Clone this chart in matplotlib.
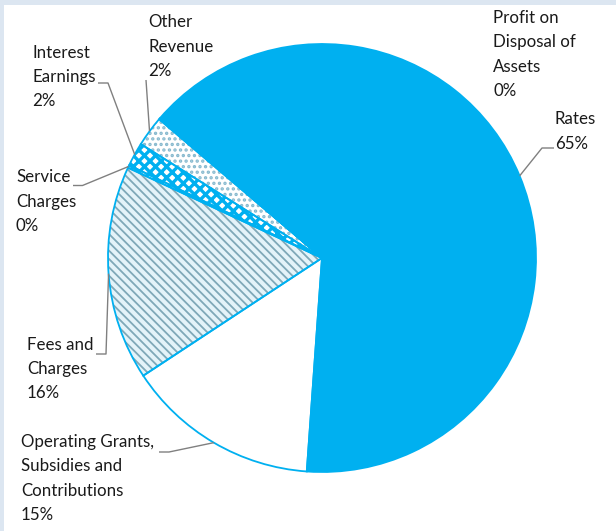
import numpy as np
import matplotlib.pyplot as plt
from matplotlib.patches import Rectangle

# revenue shares, clockwise from the top-left edge of "Rates"
labels = ["Rates", "Operating Grants,\nSubsidies and\nContributions", "Fees and\nCharges",
          "Service\nCharges", "Interest\nEarnings", "Other\nRevenue",
          "Profit on\nDisposal of\nAssets"]
values = [64.8, 14.6, 16.2, 0.2, 1.8, 2.3, 0.1]

# fill styles per slice
faces = ["#00B0F0", "white", "#E4F3F9", "white", "white", "white", "white"]
hatch_cols = ["#00B0F0", "white", "#7FA8B8", "#00B0F0", "#00B0F0", "#86B9CE", "white"]
hatches = [None, None, "\\\\\\\\", "xxx", "xxx", "...", None]
hatch_lw = [1.0, 1.0, 1.3, 2.4, 2.4, 1.6, 1.0]

W, H = 616, 531
fig = plt.figure(figsize=(W / 100, H / 100), dpi=100)
ax = fig.add_axes([0, 0, 1, 1])

# pixel helper (image y downwards -> data y upwards)
def P(x, y):
    return x, H - y

cx, cy = P(322, 258)
R = 214

wedges, _ = ax.pie(values, startangle=139.2, counterclock=False, center=(cx, cy), radius=R,
                   wedgeprops=dict(linewidth=0))
for w, fc, hc, hp, hl in zip(wedges, faces, hatch_cols, hatches, hatch_lw):
    w.set_facecolor(fc)
    w.set_edgecolor(hc)
    if hp:
        w.set_hatch(hp)
        if hasattr(w, "set_hatch_linewidth"):
            w.set_hatch_linewidth(hl)

# outline pass
ax.pie(values, startangle=139.2, counterclock=False, center=(cx, cy), radius=R,
       colors=["none"] * len(values),
       wedgeprops=dict(linewidth=1.3, edgecolor="#00B0F0", facecolor="none"))

# label layout: (x, first baseline y) and elbow points in pixels
label_pos = [(555, 126), (21, 452), (27, 353), (16, 185.5), (32, 61), (148, 30.5), (493, 28)]
line_gap = 22.7
elbows = [[(554, 148), (542, 148)],
          [(159, 452), (169, 452)],
          [(96, 354), (106, 354)],
          [(73, 185.5), (82.5, 185.5)],
          [(98, 83), (108, 83)],
          [(146, 80)],
          None]

total = sum(values)
for w, lab, v, pos, elb in zip(wedges, labels, values, label_pos, elbows):
    txt = "{}\n{:.0f}%".format(lab, v / total * 100)
    n = txt.count("\n")
    ax.text(*P(pos[0], pos[1] + n * line_gap), txt, ha="left", va="baseline",
            fontsize=12.2, family="Lato", color="#1a1a1a", linespacing=1.64)
    if elb is None:
        continue
    mid = np.deg2rad((w.theta1 + w.theta2) / 2)
    end = (cx + R * np.cos(mid), cy + R * np.sin(mid))
    pts = [P(*p) for p in elb] + [end]
    xs, ys = zip(*pts)
    ax.plot(xs, ys, color="#808080", lw=1.0, solid_capstyle="butt")

ax.set_xlim(0, W)
ax.set_ylim(0, H)
ax.set_aspect("auto")
ax.axis("off")

# light frame strips
fig.patches.append(Rectangle((0, 1 - 5 / H), 1, 5 / H, transform=fig.transFigure,
                             facecolor="#DCE6F1", edgecolor="none"))
fig.patches.append(Rectangle((0, 0), 4 / W, 1, transform=fig.transFigure,
                             facecolor="#DCE6F1", edgecolor="none"))

fig.savefig("out.png", dpi=100)
